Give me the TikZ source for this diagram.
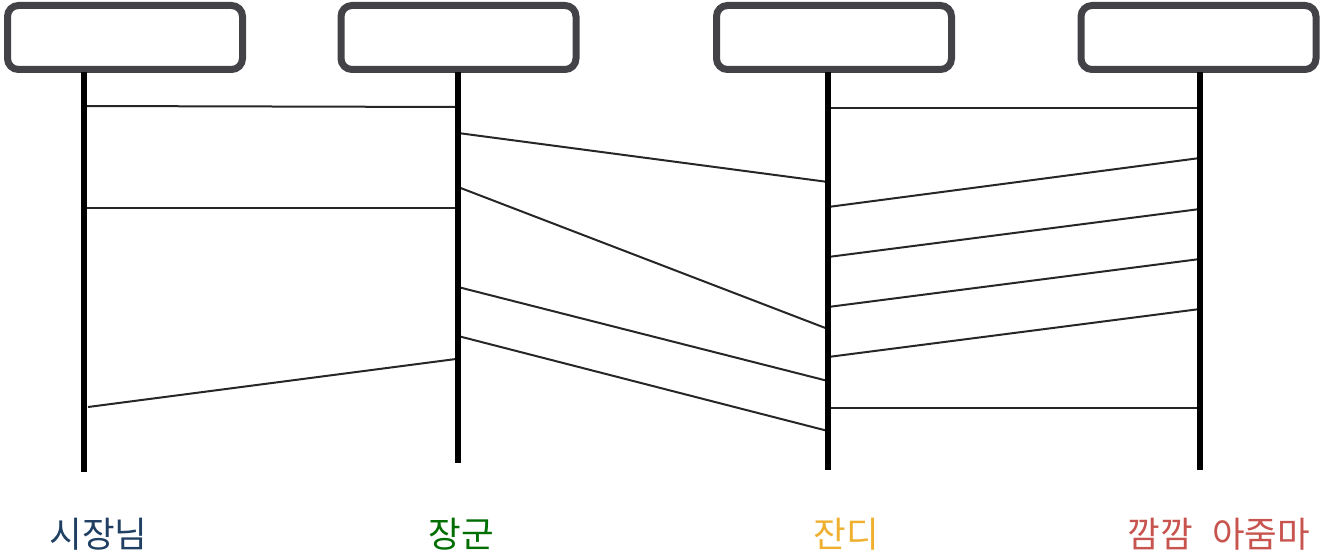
\documentclass[tikz,border=0pt]{standalone}
\usepackage{fontspec}
\newfontfamily\kofont{Noto Sans CJK KR}
\definecolor{boxgray}{HTML}{434347}
\definecolor{mayorblue}{HTML}{1F3F63}
\definecolor{generalgreen}{HTML}{006E00}
\definecolor{grassgold}{HTML}{EFAF2F}
\definecolor{darkred}{HTML}{C85450}
\tikzset{
  actor/.style={draw=boxgray,line width=7pt,rounded corners=11pt,
    minimum width=235pt,minimum height=64pt,inner sep=0pt},
  life/.style={line width=5.5pt},
  msg/.style={line width=2pt,draw=black!85},
  who/.style={font=\kofont\fontsize{35.5}{42}\selectfont,anchor=base}
}
\begin{document}
\begin{tikzpicture}[x=1pt,y=-1pt]
  \useasboundingbox (0,0) rectangle (1324,553);
  \node[actor] (box1) at (125,37.5) {};
  \node[actor] (box2) at (458.5,37.5) {};
  \node[actor] (box3) at (834,37.5) {};
  \node[actor] (box4) at (1198.5,37.5) {};
  \path
    (84,72) coordinate (top1) (84,472) coordinate (bot1)
    (458,72) coordinate (top2) (458,463) coordinate (bot2)
    (828,72) coordinate (top3) (828,470) coordinate (bot3)
    (1200,72) coordinate (top4) (1200,470) coordinate (bot4);
  \path
    (84,106) coordinate (m1) (458,107) coordinate (n1)
    (84,208) coordinate (m2) (458,208) coordinate (n2)
    (88,407) coordinate (m3) (456,359) coordinate (n3)
    (458,133) coordinate (m4) (828,182) coordinate (n4)
    (458,187) coordinate (m5) (828,329) coordinate (n5)
    (458,287) coordinate (m6) (828,381) coordinate (n6)
    (458,336) coordinate (m7) (828,431) coordinate (n7)
    (828,108) coordinate (m8) (1200,108) coordinate (n8)
    (828,207) coordinate (m9) (1200,158) coordinate (n9)
    (828,257) coordinate (m10) (1200,209) coordinate (n10)
    (828,307) coordinate (m11) (1200,259) coordinate (n11)
    (828,357) coordinate (m12) (1200,309) coordinate (n12)
    (828,408) coordinate (m13) (1200,408) coordinate (n13);
  \begin{scope}[msg]
    \draw (m1) to (n1);
    \draw (m2) to (n2);
    \draw (m3) to (n3);
    \draw (m4) to (n4);
    \draw (m5) to (n5);
    \draw (m6) to (n6);
    \draw (m7) to (n7);
    \draw (m8) to (n8);
    \draw (m9) to (n9);
    \draw (m10) to (n10);
    \draw (m11) to (n11);
    \draw (m12) to (n12);
    \draw (m13) to (n13);
  \end{scope}
  \begin{scope}[life]
    \draw (top1) to (bot1);
    \draw (top2) to (bot2);
    \draw (top3) to (bot3);
    \draw (top4) to (bot4);
  \end{scope}
  \node[who,text=mayorblue] (mayor) at (98.5,547) {시장님};
  \node[who,text=generalgreen] (general) at (461,547) {장군};
  \node[who,text=grassgold] (grass) at (846.5,547) {잔디};
  \node[who,text=darkred] (auntie) at (1219,547) {깜깜\ \hspace{3pt}\ 아줌마};
\end{tikzpicture}
\end{document}
